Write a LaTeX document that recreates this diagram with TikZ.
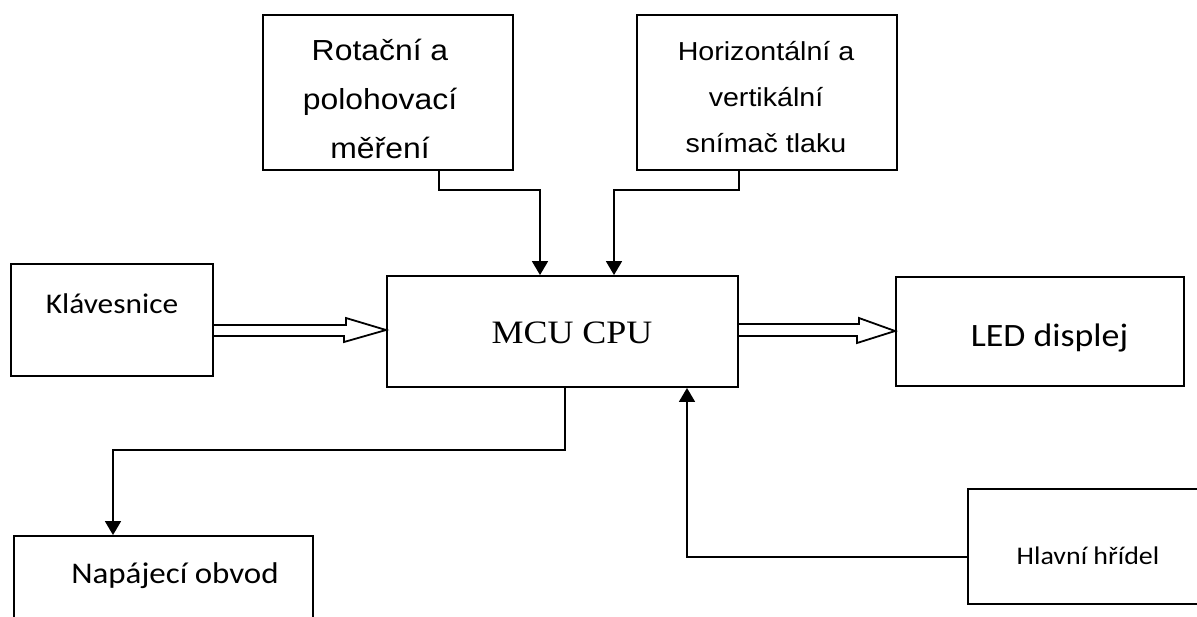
\documentclass[tikz,border=0pt]{standalone}
\usepackage{fontspec}
\usepackage{tikz}
\usetikzlibrary{arrows.meta,positioning,calc}
\newfontfamily\arialpis{Liberation Sans}[FakeStretch=1.1]
\newfontfamily\calibripis{Carlito}[FakeStretch=1.1]
\newfontfamily\timespis{Liberation Serif}[FakeStretch=1.1]

\begin{document}
\begin{tikzpicture}[x=1pt,y=-1pt,
    blok/.style={draw,line width=1.9pt,inner sep=0pt},
    popis/.style={anchor=base,inner sep=0pt,align=center},
    pijl/.style={line width=1.8pt,-{Triangle[length=14pt,width=16pt]}},
    dutka/.style={line width=1.8pt,line join=miter}]
  \useasboundingbox (0,0) rectangle (1197,616);

  % bloky
  \node[blok,minimum width=250pt,minimum height=155pt] (rot) at (388,92.5) {};
  \node[blok,minimum width=260pt,minimum height=155pt] (hor) at (767,92.5) {};
  \node[blok,minimum width=202pt,minimum height=112pt] (kla) at (112,320) {};
  \node[blok,minimum width=351pt,minimum height=111pt] (mcu) at (562.5,331.5) {};
  \node[blok,minimum width=288pt,minimum height=109pt] (led) at (1040,331.5) {};
  \node[blok,minimum width=299pt,minimum height=89pt] (nap) at (163.5,580.5) {};
  \node[blok,minimum width=242pt,minimum height=115pt] (hla) at (1089,546.5) {};

  % popisky (base = posledni radek)
  \node[popis,font=\arialpis\fontsize{29}{49}\selectfont] (rotT) at (380,158)
    {Rotační a\\polohovací\\měření};
  \node[popis,font=\arialpis\fontsize{26}{46}\selectfont] (horT) at (766,152)
    {Horizontální a\\vertikální\\snímač tlaku};
  \node[popis,font=\calibripis\fontsize{28.5}{34}\selectfont] (klaT) at (112,313) {Klávesnice};
  \node[popis,font=\timespis\fontsize{32.7}{38}\selectfont] (mcuT) at (572,343) {MCU CPU};
  \node[popis,font=\calibripis\fontsize{32.6}{38}\selectfont] (ledT) at (1049.5,346) {LED displej};
  \node[popis,font=\calibripis\fontsize{30}{36}\selectfont] (napT) at (175,583) {Napájecí obvod};
  \node[popis,font=\calibripis\fontsize{25.4}{30}\selectfont] (hlaT) at (1088,564) {Hlavní hřídel};

  % spoje
  \draw[pijl] ([xshift=51pt]rot.south) -- ++(0,19) -| ([xshift=-22.5pt]mcu.north);
  \draw[pijl] ([xshift=-28pt]hor.south) -- ++(0,19) -| ([xshift=51.5pt]mcu.north);
  \draw[pijl] ([xshift=2.5pt]mcu.south) -- ++(0,62) -| ([xshift=-50.5pt]nap.north);
  \draw[pijl] ([yshift=-10.5pt]hla.west) -| ([xshift=124.5pt]mcu.south);

  % dute sipky
  \draw[dutka] ([yshift=-5pt]kla.east) -- ++(132,0) -- ++(0,-7)
    -- ([yshift=1.5pt]mcu.west) -- ++(-42,12) -- ++(0,-6) -- ([yshift=-16pt]kla.east);
  \draw[dutka] ([yshift=7.5pt]mcu.east) -- ++(120,0) -- ++(0,-6)
    -- ([yshift=0.5pt]led.west) -- ++(-38,12) -- ++(0,-7) -- ([yshift=-4.5pt]mcu.east);
\end{tikzpicture}
\end{document}
